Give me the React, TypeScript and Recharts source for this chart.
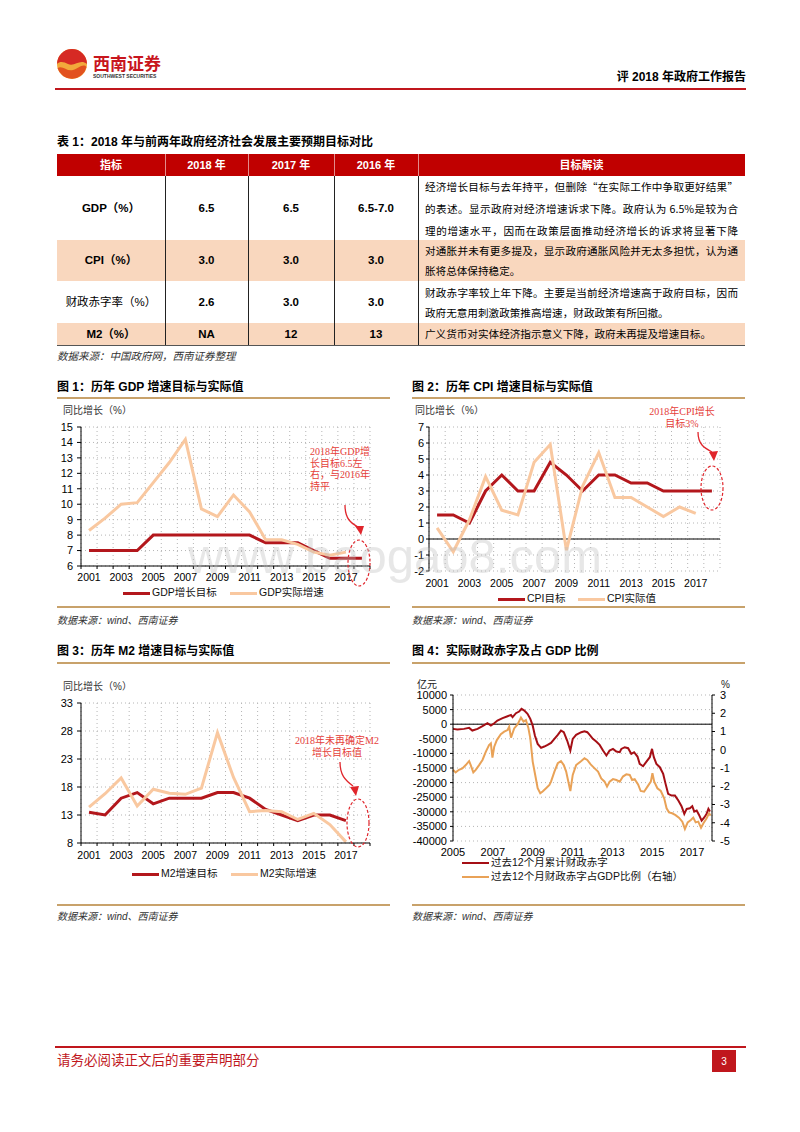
import React from 'react';
import { LineChart, Line, XAxis, YAxis, CartesianGrid, ReferenceLine } from 'recharts';

// ---------- data ----------
const years = [2001, 2002, 2003, 2004, 2005, 2006, 2007, 2008, 2009, 2010, 2011, 2012, 2013, 2014, 2015, 2016, 2017, 2018];
const yearBounds = [2000.5, 2001.5, 2002.5, 2003.5, 2004.5, 2005.5, 2006.5, 2007.5, 2008.5, 2009.5, 2010.5, 2011.5, 2012.5, 2013.5, 2014.5, 2015.5, 2016.5, 2017.5, 2018.5];
const yearLabels = [2001, 2003, 2005, 2007, 2009, 2011, 2013, 2015, 2017];

const gdpTarget = [7, 7, 7, 7, 8, 8, 8, 8, 8, 8, 8, 7.5, 7.5, 7.5, 7, 6.5, 6.5, 6.5];
const gdpActual = [8.3, 9.1, 10.0, 10.1, 11.4, 12.7, 14.2, 9.7, 9.2, 10.6, 9.5, 7.7, 7.7, 7.4, 6.9, 6.7, 6.9, null];
const gdpTicks = [6, 7, 8, 9, 10, 11, 12, 13, 14, 15];

const cpiTarget = [1.5, 1.5, 1, 3, 4, 3, 3, 4.8, 4, 3, 4, 4, 3.5, 3.5, 3, 3, 3, 3];
const cpiActual = [0.7, -0.8, 1.2, 3.9, 1.8, 1.5, 4.8, 5.9, -0.7, 3.3, 5.4, 2.6, 2.6, 2.0, 1.4, 2.0, 1.6, null];
const cpiTicks = [-2, -1, 0, 1, 2, 3, 4, 5, 6, 7];

const m2Target = [13.5, 13, 16, 17, 15, 16, 16, 16, 17, 17, 16, 14, 13, 12, 13, 13, 12, null];
const m2Actual = [14.4, 16.8, 19.6, 14.6, 17.6, 16.9, 16.7, 17.8, 27.7, 19.7, 13.6, 13.8, 13.6, 12.2, 13.3, 11.3, 8.2, null];
const m2Ticks = [8, 13, 18, 23, 28, 33];

const fiscalGridYears = [2005, 2006, 2007, 2008, 2009, 2010, 2011, 2012, 2013, 2014, 2015, 2016, 2017, 2018];
const fiscalLabelYears = [2005, 2007, 2009, 2011, 2013, 2015, 2017];
const deficitTicks = [-40000, -35000, -30000, -25000, -20000, -15000, -10000, -5000, 0, 5000, 10000];
const ratioTicks = [-5, -4, -3, -2, -1, 0, 1, 2, 3];

const defT = [2005.00, 2005.22, 2005.55, 2005.81, 2005.97, 2006.23, 2006.48, 2006.73, 2006.90, 2007.07, 2007.23, 2007.49, 2007.74, 2007.91, 2007.99, 2008.16, 2008.32, 2008.44, 2008.58, 2008.74, 2008.88, 2009.00, 2009.11, 2009.25, 2009.42, 2009.58, 2009.75, 2009.92, 2010.09, 2010.26, 2010.42, 2010.56, 2010.73, 2010.89, 2011.01, 2011.18, 2011.44, 2011.60, 2011.74, 2011.86, 2012.02, 2012.19, 2012.36, 2012.53, 2012.70, 2012.86, 2013.03, 2013.20, 2013.37, 2013.45, 2013.62, 2013.79, 2013.95, 2014.09, 2014.26, 2014.37, 2014.54, 2014.71, 2014.88, 2014.99, 2015.08, 2015.21, 2015.38, 2015.55, 2015.67, 2015.80, 2015.97, 2016.14, 2016.31, 2016.47, 2016.61, 2016.73, 2016.89, 2017.01, 2017.11, 2017.23, 2017.35, 2017.48, 2017.62, 2017.73, 2017.82, 2017.90];
const defV = [-1600, -1830, -1600, -1260, -2170, -1600, -690, 340, -460, 340, 1260, 2060, 2740, 3200, 2400, 3770, 4340, 5250, 4680, 3540, 1830, -460, -3880, -6740, -8110, -7650, -7080, -6400, -5020, -3650, -2170, -2740, -5600, -9020, -5020, -3650, -2740, -2400, -2740, -3650, -5020, -5940, -7080, -9020, -10730, -9020, -8450, -9360, -9590, -8450, -7880, -8220, -10160, -9590, -11080, -13590, -14390, -12790, -11310, -8450, -11310, -13590, -14730, -17020, -20440, -23870, -24440, -24440, -26150, -28090, -30720, -29010, -28780, -28090, -29920, -29580, -31060, -33000, -31860, -30720, -29010, -29920];

const ratT = [2005.00, 2005.13, 2005.30, 2005.47, 2005.64, 2005.81, 2005.89, 2006.02, 2006.14, 2006.31, 2006.48, 2006.65, 2006.81, 2006.90, 2006.98, 2007.07, 2007.20, 2007.40, 2007.57, 2007.74, 2007.82, 2007.91, 2008.07, 2008.24, 2008.41, 2008.54, 2008.66, 2008.78, 2008.88, 2009.00, 2009.11, 2009.25, 2009.38, 2009.50, 2009.67, 2009.84, 2009.92, 2010.09, 2010.26, 2010.42, 2010.56, 2010.68, 2010.79, 2010.89, 2011.01, 2011.18, 2011.44, 2011.60, 2011.74, 2011.91, 2012.11, 2012.28, 2012.44, 2012.61, 2012.73, 2012.86, 2013.03, 2013.20, 2013.37, 2013.53, 2013.70, 2013.87, 2013.99, 2014.12, 2014.29, 2014.42, 2014.59, 2014.76, 2014.93, 2015.01, 2015.10, 2015.26, 2015.43, 2015.60, 2015.72, 2015.84, 2016.00, 2016.17, 2016.34, 2016.51, 2016.64, 2016.78, 2016.94, 2017.06, 2017.18, 2017.31, 2017.45, 2017.57, 2017.73, 2017.85, 2017.93];
const ratP = [-1.10, -1.24, -1.10, -1.02, -0.84, -0.62, -0.84, -1.24, -1.10, -0.84, -0.56, -0.10, 0.26, 0.35, -0.43, 0.17, 0.53, 0.85, 0.99, 1.08, 1.26, 0.66, 1.17, 1.39, 1.76, 1.54, 1.63, 1.21, 0.63, -0.65, -1.29, -2.11, -2.38, -2.29, -2.11, -1.93, -1.75, -1.20, -0.74, -0.62, -0.84, -1.20, -1.75, -2.26, -1.38, -0.84, -0.62, -0.47, -0.56, -0.80, -1.02, -1.20, -1.57, -1.75, -2.02, -1.75, -1.61, -1.66, -1.75, -1.47, -1.35, -1.38, -1.66, -1.61, -1.90, -2.26, -2.30, -2.02, -1.75, -1.29, -1.75, -2.11, -2.26, -2.66, -3.21, -3.43, -3.48, -3.58, -3.72, -3.94, -4.34, -3.98, -3.85, -3.72, -3.98, -3.94, -4.27, -4.03, -3.76, -3.48, -3.61];

// table text
const tableHeaders = ['指标', '2018 年', '2017 年', '2016 年', '目标解读'];
const tableLabels = ['GDP（%）', 'CPI（%）', '财政赤字率（%）', 'M2（%）'];
const col2018 = ['6.5', '3.0', '2.6', 'NA'];
const col2017 = ['6.5', '3.0', '3.0', '12'];
const col2016 = ['6.5-7.0', '3.0', '3.0', '13'];
const notes = [
  ['经济增长目标与去年持平，但删除“在实际工作中争取更好结果”', '的表述。显示政府对经济增速诉求下降。政府认为 6.5%是较为合', '理的增速水平，因而在政策层面推动经济增长的诉求将显著下降'],
  ['对通胀并未有更多提及，显示政府通胀风险并无太多担忧，认为通', '胀将总体保持稳定。'],
  ['财政赤字率较上年下降。主要是当前经济增速高于政府目标，因而', '政府无意用刺激政策推高增速，财政政策有所回撤。'],
  ['广义货币对实体经济指示意义下降，政府未再提及增速目标。'],
];

const buildRows = (a: (number | null)[], b: (number | null)[]) =>
  years.map((year, i) => ({ year, target: a[i], actual: b[i] }));
const gdpRows = buildRows(gdpTarget, gdpActual);
const cpiRows = buildRows(cpiTarget, cpiActual);
const m2Rows = buildRows(m2Target, m2Actual);
const deficitRows = defT.map((t, i) => ({ t, v: defV[i] }));
const ratioRows = ratT.map((t, i) => ({ t, p: ratP[i] }));

// ---------- style ----------
const LAT = '"Liberation Sans", Arial, "Noto Sans CJK SC", sans-serif';
const CJK = '"Noto Sans CJK SC", "Liberation Sans", sans-serif';
const SERIF = '"Liberation Serif", "Noto Sans CJK SC", serif';
const DARK = '#b3171c';
const LIGHT = '#f9c8a0';
const DEF_C = '#a50f15';
const RAT_C = '#e9a257';
const GRID = '#b5b5b5';
const TAN = '#c8a26b';
const RED = '#c0171d';
const NOTE = '#e5403a';

type TP = {
  x: number; y: number; s?: number; c?: string; b?: boolean; it?: boolean; f?: string;
  align?: 'left' | 'center' | 'right'; w?: number; children: React.ReactNode; justify?: boolean;
};
function T({ x, y, s = 11, c = '#000', b, it, f = LAT, align = 'left', w = 100, children, justify }: TP) {
  const lh = s * 1.3;
  const st: React.CSSProperties = {
    position: 'absolute', top: y - lh / 2, fontSize: s, lineHeight: `${lh}px`, color: c,
    fontWeight: b ? 700 : 400, fontStyle: it ? 'italic' : 'normal', fontFamily: f,
  };
  if (justify) {
    st.left = x; st.width = w; st.textAlign = 'justify'; (st as any).textAlignLast = 'justify';
  } else {
    st.whiteSpace = 'nowrap';
    if (align === 'center') { st.left = x - w / 2; st.width = w; st.textAlign = 'center'; }
    else if (align === 'right') { st.right = 800 - x; st.textAlign = 'right'; }
    else st.left = x;
  }
  return <div style={st}>{children}</div>;
}

function Box({ x, y, w, h, bg }: { x: number; y: number; w: number; h: number; bg: string }) {
  return <div style={{ position: 'absolute', left: x, top: y, width: w, height: h, background: bg }} />;
}

function LegendItem({ x, y, color, text, th = 3, s = 10.5 }: { x: number; y: number; color: string; text: string; th?: number; s?: number }) {
  return (
    <>
      <Box x={x} y={y - th / 2} w={27} h={th} bg={color} />
      <T x={x + 29} y={y} s={s} f={LAT} c="#111">{text}</T>
    </>
  );
}

type YCProps = {
  data: any[]; left: number; top: number; width: number; height: number; mTop: number; yW: number;
  domain: [number, number]; ticks: number[]; tSize: number; tMargin: number; xMargin: number;
  bottomAxis: boolean; zero?: boolean;
};
function YearChart({ data, left, top, width, height, mTop, yW, domain, ticks, tSize, tMargin, xMargin, bottomAxis, zero }: YCProps) {
  const tickStyle = { fontSize: 11, fill: '#000', fontFamily: LAT };
  return (
    <div style={{ position: 'absolute', left, top }}>
      <LineChart width={width} height={height} data={data} margin={{ top: mTop, right: 10, bottom: 0, left: 0 }}>
        <CartesianGrid xAxisId="grid" stroke={GRID} strokeDasharray="1 3" />
        <XAxis xAxisId="grid" type="number" dataKey="year" domain={[2000.5, 2018.5]} ticks={yearBounds} interval={0}
          tickFormatter={() => ''} height={1} tickSize={3}
          axisLine={bottomAxis ? { stroke: '#000' } : false} tickLine={bottomAxis ? { stroke: '#000' } : false} />
        <XAxis xAxisId="lab" type="number" dataKey="year" domain={[2000.5, 2018.5]} ticks={yearLabels} interval={0}
          height={28} axisLine={false} tickLine={false} tickSize={0} tickMargin={xMargin}
          tick={{ fontSize: 10.5, fill: '#000', fontFamily: LAT }} />
        <YAxis domain={domain} ticks={ticks} interval={0} width={yW} tickSize={tSize} tickMargin={tMargin}
          axisLine={{ stroke: '#000' }} tickLine={{ stroke: '#000' }} tick={tickStyle} />
        {zero && <ReferenceLine xAxisId="lab" y={0} stroke="#000" strokeWidth={1} />}
        <Line xAxisId="lab" type="linear" dataKey="target" stroke={DARK} strokeWidth={3} dot={false} activeDot={false} isAnimationActive={false} />
        <Line xAxisId="lab" type="linear" dataKey="actual" stroke={LIGHT} strokeWidth={3} dot={false} activeDot={false} isAnimationActive={false} />
      </LineChart>
    </div>
  );
}

function FiscalChart() {
  const tickStyle = { fontSize: 11, fill: '#000', fontFamily: LAT };
  return (
    <div style={{ position: 'absolute', left: 400, top: 680 }}>
      <LineChart width={352} height={186} margin={{ top: 15, right: 0, bottom: 0, left: 0 }}>
        <CartesianGrid xAxisId="grid" yAxisId="left" stroke={GRID} strokeDasharray="1 3" />
        <XAxis xAxisId="grid" type="number" dataKey="t" domain={[2005, 2018]} ticks={fiscalGridYears} interval={0}
          tickFormatter={() => ''} height={1} axisLine={false} tickLine={false} />
        <XAxis xAxisId="lab" type="number" dataKey="t" domain={[2005, 2018]} ticks={fiscalLabelYears} interval={0}
          height={24} axisLine={false} tickLine={false} tickSize={0} tickMargin={6} tick={tickStyle} />
        <YAxis yAxisId="left" domain={[-40000, 10000]} ticks={deficitTicks} interval={0} width={53} tickSize={3} tickMargin={3}
          axisLine={{ stroke: '#000' }} tickLine={{ stroke: '#000' }} tick={tickStyle} />
        <YAxis yAxisId="right" orientation="right" domain={[-5, 3]} ticks={ratioTicks} interval={0} width={40} tickSize={3} tickMargin={5}
          axisLine={{ stroke: '#000' }} tickLine={{ stroke: '#000' }} tick={tickStyle} />
        <ReferenceLine xAxisId="lab" yAxisId="left" y={0} stroke="#000" strokeWidth={1} />
        <Line xAxisId="lab" yAxisId="left" data={deficitRows} dataKey="v" type="linear" stroke={DEF_C} strokeWidth={2} dot={false} activeDot={false} isAnimationActive={false} />
        <Line xAxisId="lab" yAxisId="right" data={ratioRows} dataKey="p" type="linear" stroke={RAT_C} strokeWidth={2} dot={false} activeDot={false} isAnimationActive={false} />
      </LineChart>
    </div>
  );
}

function Table() {
  const colX = [57, 165, 248, 334, 418, 745];
  const rowY = [154, 176, 240, 281, 323, 345];
  const els: React.ReactNode[] = [];
  els.push(<Box key="hdr" x={57} y={154} w={688} h={22} bg="#c00000" />);
  els.push(<Box key="cpi" x={57} y={240} w={688} h={41} bg="#f9d7be" />);
  els.push(<Box key="m2" x={57} y={323} w={688} h={22} bg="#f9d7be" />);
  for (let i = 1; i < 5; i++) {
    els.push(<Box key={'hv' + i} x={colX[i]} y={154} w={1} h={22} bg="rgba(255,255,255,0.55)" />);
    els.push(<Box key={'bv' + i} x={colX[i]} y={176} w={1} h={169} bg="#222" />);
  }
  els.push(<Box key="bot" x={57} y={345} w={688} h={1} bg="#555" />);
  tableHeaders.forEach((h, i) => {
    const cx = (colX[i] + colX[i + 1]) / 2;
    els.push(<T key={'h' + i} x={cx} y={165} s={11} b c="#fff" align="center" w={120}>{h}</T>);
  });
  const lineYs = [[187, 209, 231], [251, 270.5], [293, 312.5], [334]];
  for (let r = 0; r < 4; r++) {
    const cy = (rowY[r + 1] + rowY[r + 2]) / 2;
    const cells = [tableLabels[r], col2018[r], col2017[r], col2016[r]];
    cells.forEach((c, i) => {
      const cx = (colX[i] + colX[i + 1]) / 2;
      els.push(<T key={`c${r}-${i}`} x={cx} y={cy} s={11.5} b={!(r === 2 && i === 0)} align="center" w={110}>{c}</T>);
    });
    notes[r].forEach((ln, k) => {
      const full = k < notes[r].length - 1 || r === 0;
      els.push(
        <T key={`n${r}-${k}`} x={425} y={lineYs[r][k]} s={10.6} f={CJK} justify={full} w={313}>{ln}</T>
      );
    });
  }
  return <>{els}</>;
}

function Logo() {
  return (
    <svg width={34} height={34} style={{ position: 'absolute', left: 55, top: 47 }}>
      <circle cx={17} cy={17} r={15} fill="#f2a93b" />
      <path d="M2,17 A15,15 0 0 1 32,17 C25,11 20,20 13,17 C9,15 5,14 2,17 Z" fill="#d62a24" />
      <path d="M2.5,21 C8,18 12,25 18,23 C24,21 28,16 31.5,20 A15,15 0 0 1 2.5,21 Z" fill="#e2521f" />
    </svg>
  );
}

function Annotations() {
  return (
    <svg width={800} height={1132} style={{ position: 'absolute', left: 0, top: 0, pointerEvents: 'none' }}>
      <g fill="none" stroke="#e0262c" strokeWidth={1.3}>
        <path d="M345,505 C345,519 351,523 358,527" />
        <path d="M698,432 C698,444 704,448 712,452" />
        <path d="M340,762 C340,775 345,780 353,786" />
      </g>
      <g fill="#e0262c">
        <polygon points="355,526 364,526 361,535" />
        <polygon points="709,452 718,451 714,461" />
        <polygon points="350,787 359,786 356,796" />
      </g>
      <g fill="none" stroke="#e0262c" strokeWidth={1.2} strokeDasharray="3 2">
        <ellipse cx={359} cy={563} rx={11} ry={23} />
        <ellipse cx={712} cy={488} rx={11} ry={22} />
        <ellipse cx={358} cy={823} rx={11} ry={24} />
      </g>
    </svg>
  );
}

export default function App() {
  return (
    <div style={{ position: 'absolute', left: 0, top: 0, width: 800, height: 1132, background: '#fff', overflow: 'hidden', fontFamily: LAT }}>
      {/* header */}
      <Logo />
      <T x={93} y={63} s={17} b c="#c8161d" f={CJK}>西南证券</T>
      <T x={93} y={76} s={5} b c="#333">SOUTHWEST SECURITIES</T>
      <T x={746} y={78} s={12} b align="right">评 2018 年政府工作报告</T>
      <Box x={55} y={88} w={691} h={2} bg={RED} />

      {/* table */}
      <T x={57} y={143} s={12} b>表 1：2018 年与前两年政府经济社会发展主要预期目标对比</T>
      <Table />
      <T x={57} y={356} s={10.5} it c="#333" f={CJK}>数据来源：中国政府网，西南证券整理</T>

      {/* chart titles and rules */}
      <T x={57} y={388} s={12} b>图 1：历年 GDP 增速目标与实际值</T>
      <T x={412} y={388} s={12} b>图 2：历年 CPI 增速目标与实际值</T>
      <Box x={57} y={397} w={333} h={2} bg={TAN} />
      <Box x={412} y={397} w={333} h={2} bg={TAN} />
      <Box x={57} y={606} w={333} h={2} bg={TAN} />
      <Box x={412} y={606} w={333} h={2} bg={TAN} />
      <T x={57} y={620} s={10} it c="#333">数据来源：wind、西南证券</T>
      <T x={412} y={620} s={10} it c="#333">数据来源：wind、西南证券</T>

      <T x={57} y={652} s={12} b>图 3：历年 M2 增速目标与实际值</T>
      <T x={412} y={652} s={12} b>图 4：实际财政赤字及占 GDP 比例</T>
      <Box x={57} y={662} w={333} h={2} bg={TAN} />
      <Box x={412} y={662} w={333} h={2} bg={TAN} />
      <Box x={57} y={904} w={333} h={2} bg={TAN} />
      <Box x={412} y={904} w={333} h={2} bg={TAN} />
      <T x={57} y={916} s={10} it c="#333">数据来源：wind、西南证券</T>
      <T x={412} y={916} s={10} it c="#333">数据来源：wind、西南证券</T>

      {/* chart 1 */}
      <T x={63} y={410} s={10} c="#333">同比增长（%）</T>
      <YearChart data={gdpRows} left={40} top={415} width={340} height={180} mTop={12} yW={41}
        domain={[6, 15]} ticks={gdpTicks} tSize={4} tMargin={4} xMargin={7} bottomAxis />
      <LegendItem x={123} y={593} color={DARK} text="GDP增长目标" />
      <LegendItem x={230} y={593} color={LIGHT} text="GDP实际增速" />

      {/* chart 2 */}
      <T x={415} y={410} s={10} c="#333">同比增长（%）</T>
      <YearChart data={cpiRows} left={400} top={415} width={330} height={185} mTop={12} yW={29}
        domain={[-2, 7]} ticks={cpiTicks} tSize={3} tMargin={2} xMargin={8} bottomAxis={false} zero />
      <LegendItem x={498} y={599} color={DARK} text="CPI目标" />
      <LegendItem x={578} y={599} color={LIGHT} text="CPI实际值" />

      {/* chart 3 */}
      <T x={63} y={686} s={10} c="#333">同比增长（%）</T>
      <YearChart data={m2Rows} left={40} top={690} width={340} height={182} mTop={13} yW={41}
        domain={[8, 33]} ticks={m2Ticks} tSize={4} tMargin={4} xMargin={8} bottomAxis />
      <LegendItem x={132} y={874} color={DARK} text="M2增速目标" />
      <LegendItem x={231} y={874} color={LIGHT} text="M2实际增速" />

      {/* chart 4 */}
      <T x={417} y={684} s={10} c="#222">亿元</T>
      <T x={721} y={684} s={10} c="#222">%</T>
      <FiscalChart />
      <LegendItem x={462} y={863} color={DEF_C} th={2.5} text="过去12个月累计财政赤字" />
      <LegendItem x={462} y={877} color={RAT_C} th={2.5} text="过去12个月财政赤字占GDP比例（右轴）" />

      {/* annotations */}
      <div style={{ position: 'absolute', left: 310, top: 446, fontSize: 10, lineHeight: '11.7px', color: NOTE, fontFamily: SERIF, whiteSpace: 'nowrap' }}>
        2018年GDP增<br />长目标6.5左<br />右，与2016年<br />持平
      </div>
      <div style={{ position: 'absolute', left: 622, width: 120, top: 406, fontSize: 10, lineHeight: '11.5px', color: NOTE, fontFamily: SERIF, textAlign: 'center', whiteSpace: 'nowrap' }}>
        2018年CPI增长<br />目标3%
      </div>
      <div style={{ position: 'absolute', left: 277, width: 120, top: 735, fontSize: 10, lineHeight: '12px', color: NOTE, fontFamily: SERIF, textAlign: 'center', whiteSpace: 'nowrap' }}>
        2018年未再确定M2<br />增长目标值
      </div>
      <Annotations />

      {/* watermark */}
      <div style={{ position: 'absolute', left: 188, top: 541, fontSize: 49, lineHeight: '30px', color: 'rgba(185,185,185,0.35)', fontFamily: LAT, whiteSpace: 'nowrap', pointerEvents: 'none' }}>
        www.baogao8.com
      </div>

      {/* footer */}
      <Box x={55} y={1046} w={691} h={1.5} bg={RED} />
      <T x={57} y={1060} s={13.5} c={RED} f={CJK}>请务必阅读正文后的重要声明部分</T>
      <Box x={712} y={1050} w={24} h={22} bg={RED} />
      <T x={724} y={1061} s={10} c="#fff" align="center" w={24}>3</T>
    </div>
  );
}
